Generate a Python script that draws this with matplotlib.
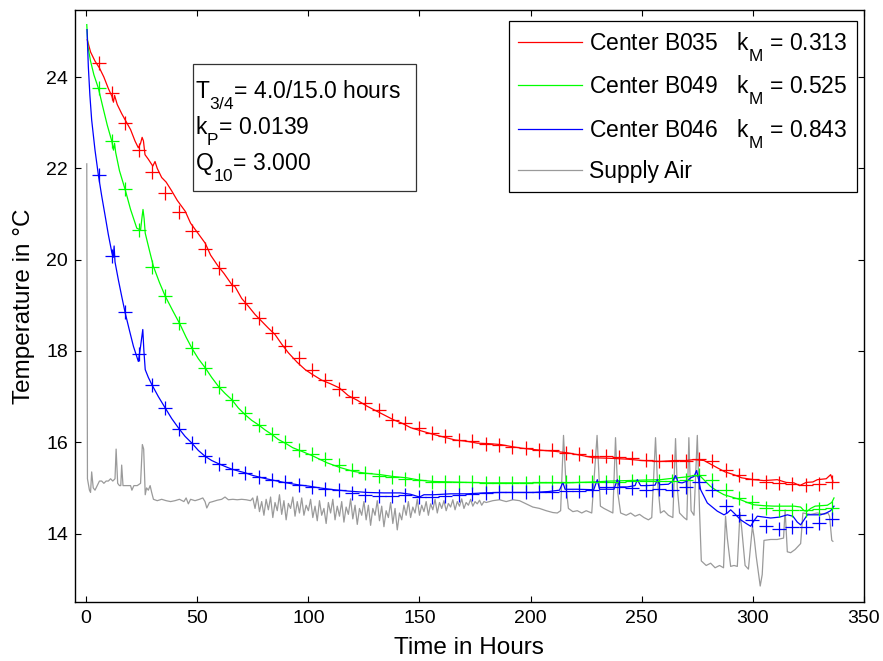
import numpy as np
import matplotlib
matplotlib.use("Agg")
import matplotlib.pyplot as plt
from matplotlib.patches import Rectangle
from matplotlib.lines import Line2D

try:
    import matplotlib._mathtext as _mt
    _mt.FontConstantsBase.sub1 = 0.9
    _mt.SHRINK_FACTOR = 0.75
except Exception:
    pass

plt.rcParams['font.family'] = ['Liberation Sans', 'DejaVu Sans']
plt.rcParams['mathtext.fontset'] = 'custom'
plt.rcParams['mathtext.rm'] = 'Liberation Sans'
plt.rcParams['mathtext.it'] = 'Liberation Sans:italic'
plt.rcParams['mathtext.default'] = 'regular'

# ---------------- data ----------------
series_names = ["Center B035", "Center B049", "Center B046", "Supply Air"]
km_values = ["0.313", "0.525", "0.843"]
x_ticks = [0, 50, 100, 150, 200, 250, 300, 350]
y_ticks = [14, 16, 18, 20, 22, 24]

b035_t = [0.5, 2, 4, 6, 8, 10, 11.6, 12.3, 12.8, 14, 16, 17.6, 20, 22, 23.5, 24.5, 25.2, 25.8, 26.5, 28,
          30, 31, 32, 34, 36, 38.6, 41, 44.6, 47, 50, 53.6, 56, 59.5, 62, 65.6, 67, 70, 73, 76, 79,
          82, 85, 88, 91, 95, 98.6, 102, 106, 110, 114, 118, 122, 126.4, 130, 134, 138.4, 142, 146, 150, 156.4,
          162, 166, 171.4, 176, 181, 186.4, 192, 196, 201.4, 206, 211, 216.4, 222, 228.4, 235, 243.4, 250, 258.4, 265, 270,
          273.4, 278, 281, 284, 287.5, 291.4, 295, 300.4, 305, 311, 315, 318.5, 321, 324, 327, 329, 333, 335, 336]
b035_v = [24.82, 24.55, 24.35, 24.2, 24.0, 23.75, 23.58, 23.45, 23.6, 23.4, 23.2, 23.06, 22.85, 22.6, 22.45, 22.55, 22.68, 22.6, 22.3, 22.2,
          22.05, 22.15, 22.0, 21.8, 21.7, 21.5, 21.3, 21.06, 20.8, 20.6, 20.36, 20.1, 19.85, 19.7, 19.45, 19.41, 19.15, 18.98, 18.8, 18.65,
          18.5, 18.36, 18.15, 17.96, 17.75, 17.59, 17.48, 17.36, 17.28, 17.19, 17.02, 16.92, 16.79, 16.7, 16.6, 16.49, 16.42, 16.32, 16.26, 16.17,
          16.1, 16.05, 16.02, 15.98, 15.97, 15.95, 15.9, 15.87, 15.84, 15.82, 15.8, 15.77, 15.72, 15.66, 15.65, 15.63, 15.6, 15.58, 15.6, 15.6,
          15.62, 15.6, 15.52, 15.44, 15.35, 15.29, 15.22, 15.18, 15.16, 15.18, 15.12, 15.11, 15.05, 15.12, 15.13, 15.18, 15.2, 15.29, 15.15]

b049_t = [0.3, 0.8, 2, 3.5, 5.5, 7.5, 9.5, 11.6, 12.3, 12.8, 13.3, 15, 17.6, 20, 22.8, 24.5, 25.2, 25.6, 26.1, 26.6,
          28.5, 30.3, 33, 35.6, 39, 42.3, 45, 47.6, 50.5, 53.6, 56.5, 59.6, 62.5, 65.6, 68.5, 71.6, 74.5, 77.6, 80.5, 83.6,
          86.5, 89.6, 93, 97.1, 102, 108.4, 114, 120.4, 126, 132.4, 138, 144.4, 150, 156.4, 164, 171.4, 180, 186.4, 195, 201.4,
          210, 216.4, 222, 228.4, 236, 243.4, 250, 258.4, 262, 266, 270, 273.4, 276.5, 278.5, 281, 284, 287, 290.5, 294.5, 297.5,
          300.4, 305, 309.5, 314, 318.5, 321.5, 323, 324.5, 326, 328, 330.5, 333.5, 335.5, 336.5]
b049_v = [25.15, 24.67, 24.35, 24.05, 23.76, 23.35, 22.95, 22.59, 22.4, 22.55, 22.35, 21.95, 21.53, 21.1, 20.69, 20.65, 20.95, 21.1, 20.9, 20.58,
          20.2, 19.85, 19.5, 19.2, 18.88, 18.58, 18.3, 18.06, 17.83, 17.63, 17.42, 17.22, 17.07, 16.93, 16.75, 16.6, 16.48, 16.38, 16.27, 16.17,
          16.06, 15.98, 15.88, 15.8, 15.7, 15.55, 15.45, 15.36, 15.32, 15.29, 15.25, 15.22, 15.17, 15.14, 15.13, 15.12, 15.11, 15.11, 15.11, 15.11,
          15.11, 15.11, 15.12, 15.13, 15.15, 15.16, 15.17, 15.18, 15.2, 15.22, 15.24, 15.27, 15.25, 15.15, 15.03, 14.93, 14.85, 14.8, 14.74, 14.68,
          14.63, 14.61, 14.6, 14.6, 14.6, 14.58, 14.5, 14.49, 14.55, 14.6, 14.61, 14.62, 14.68, 14.78]

b046_t = [0.4, 1.0, 1.7, 2.5, 4.0, 5.5, 7.0, 8.6, 10.0, 11.6, 12.2, 12.6, 13.0, 14.5, 16.0, 17.6, 19.5, 21.3, 23.5, 24.5,
          25.5, 26.0, 26.6, 28, 29.6, 32.5, 35.6, 38.5, 41.6, 44.5, 47.6, 50.5, 53.6, 56.5, 59.6, 62.5, 65.6, 68.5, 71.6, 74.5,
          77.6, 81, 85, 89, 92.6, 96.4, 100, 105, 111.4, 118, 126.4, 134, 141.4, 146, 150, 152, 156.4, 164, 171.4, 179,
          186.4, 194, 201.4, 208, 213, 214.5, 215.5, 221, 228.4, 230, 231, 237.5, 239, 240, 243.4, 247, 248, 249.5, 252.4, 256,
          257, 258, 262, 264, 265.2, 266.5, 268.2, 270.5, 272, 273.5, 274.7, 275.5, 276.5, 279.5, 282, 284, 287, 288.5, 290, 291.5,
          294.5, 297, 299, 300.5, 302, 305, 308, 312, 315.5, 318, 320, 321.5, 323, 324.5, 327, 330.5, 333, 335, 336.5]
b046_v = [25.04, 24.23, 23.6, 23.06, 22.4, 21.86, 21.4, 20.95, 20.55, 20.15, 20.05, 20.3, 19.95, 19.56, 19.2, 18.83, 18.45, 18.1, 17.77, 18.1,
          18.47, 18.0, 17.59, 17.42, 17.26, 17.0, 16.75, 16.52, 16.31, 16.13, 15.98, 15.82, 15.69, 15.6, 15.53, 15.47, 15.41, 15.37, 15.33, 15.28,
          15.24, 15.2, 15.16, 15.12, 15.09, 15.06, 15.04, 15.0, 14.96, 14.93, 14.9, 14.89, 14.89, 14.86, 14.8, 14.85, 14.85, 14.87, 14.87, 14.89,
          14.9, 14.9, 14.9, 14.92, 14.95, 15.12, 14.97, 14.97, 14.96, 15.18, 14.97, 14.97, 15.18, 15.02, 15.02, 15.05, 15.18, 15.05, 15.05, 15.06,
          15.18, 15.07, 15.08, 15.15, 15.27, 15.12, 15.11, 15.15, 15.22, 15.25, 15.38, 15.2, 14.96, 14.67, 14.57, 14.49, 14.41, 14.45, 14.52, 14.45,
          14.3, 14.22, 14.16, 14.28, 14.38, 14.36, 14.34, 14.36, 14.41, 14.38, 14.25, 14.19, 14.3, 14.41, 14.41, 14.41, 14.45, 14.5, 14.6]

supply_head_t = [0.3, 0.6, 1.5, 2.0, 2.5, 3.2, 4.0, 5.0, 6.0, 7.0, 8.0, 9.0, 10.0, 11.0, 12.0, 13.0, 13.5, 14.2, 15.0, 15.6,
                 16.0, 16.6, 18.0, 20.0, 20.6, 21.5, 23.0, 24.5, 25.3, 25.9, 26.6, 27.2, 28.0, 28.8, 29.5, 30.3, 32, 34, 36, 38,
                 40, 42, 44, 45, 46, 47, 49, 51, 52.5, 53.5, 54.3, 55.5, 57, 59, 61, 62.5, 64, 66, 68, 70, 72, 74]
supply_head_v = [22.1, 15.2, 14.95, 14.9, 15.35, 15.0, 14.95, 15.05, 15.15, 15.15, 15.1, 15.15, 15.15, 15.2, 15.15, 15.2, 15.85, 15.1, 15.05, 15.05,
                 15.5, 15.05, 15.05, 15.05, 14.95, 15.05, 15.05, 15.1, 15.95, 15.85, 14.85, 15.0, 14.95, 15.05, 14.9, 14.75, 14.72, 14.75, 14.72, 14.7,
                 14.72, 14.75, 14.7, 14.78, 14.65, 14.75, 14.72, 14.75, 14.78, 14.7, 14.56, 14.68, 14.7, 14.73, 14.75, 14.8, 14.74, 14.75, 14.74, 14.75, 14.74, 14.72]
# hourly readings from hour 75 to hour 180
supply_noise_start = 75
supply_noise_v = [14.78, 14.55, 14.82, 14.48, 14.7, 14.4, 14.75, 14.52, 14.8, 14.35, 14.68, 14.5, 14.85, 14.42, 14.72, 14.3, 14.66, 14.55, 14.8, 14.38,
                  14.7, 14.45, 14.78, 14.4, 14.62, 14.5,
                  14.75, 14.35, 14.6, 14.28, 14.72, 14.4, 14.55, 14.22, 14.68, 14.45, 14.75, 14.3, 14.6, 14.38, 14.7, 14.25, 14.58, 14.42, 14.76, 14.32,
                  14.62, 14.2, 14.55, 14.4, 14.7,
                  14.3, 14.62, 14.18, 14.55, 14.4, 14.72, 14.28, 14.6, 14.15, 14.5, 14.35, 14.68, 14.22, 14.55, 14.08, 14.45, 14.3, 14.62, 14.4, 14.7,
                  14.35, 14.58, 14.45, 14.75, 14.4,
                  14.62, 14.48, 14.7, 14.4, 14.65, 14.52, 14.75, 14.45, 14.68, 14.55, 14.72, 14.5, 14.66, 14.58, 14.74, 14.52, 14.7, 14.6, 14.76, 14.55,
                  14.68, 14.62, 14.75, 14.6, 14.7, 14.65, 14.73, 14.62, 14.7, 14.68]
supply_tail_t = [183, 186, 189, 192, 195, 198, 201, 204, 207, 210, 212, 213.5, 214.8, 216, 217, 219, 221, 223, 225, 227.5,
                 229.9, 231.4, 233, 235, 237, 238.2, 239.2, 240.5, 243, 245, 247, 249, 251, 253, 254.5, 256.2, 257, 258.4, 260, 262,
                 264, 265.2, 266, 267, 269, 270.3, 271.2, 272.2, 273.5, 275, 276, 276.8, 279, 281, 283, 285, 286.8, 287.7, 288.5, 290,
                 291.5, 293, 294.2, 295, 296.5, 298, 299.8, 300.6, 301.5, 303.3, 304.2, 305, 308, 311, 313.8, 314.5, 315.5, 317, 319, 321.5,
                 322.5, 326, 329, 332, 333.8, 334.5, 335.5, 336]
supply_tail_v = [14.72, 14.74, 14.7, 14.74, 14.72, 14.65, 14.58, 14.55, 14.5, 14.46, 14.45, 14.5, 16.15, 15.0, 14.55, 14.48, 14.5, 14.45, 14.5, 14.45,
                 16.15, 14.6, 14.55, 14.5, 14.45, 16.1, 14.9, 14.45, 14.4, 14.45, 14.38, 14.42, 14.35, 14.3, 14.35, 16.1, 15.2, 14.45, 14.5, 14.4,
                 14.35, 16.08, 15.0, 14.45, 14.35, 14.3, 16.1, 14.5, 14.4, 16.15, 14.5, 13.4, 13.3, 13.35, 13.25, 13.3, 13.25, 14.38, 13.9, 13.28,
                 13.3, 13.28, 14.46, 14.1, 13.3, 13.22, 14.16, 13.9, 13.5, 12.85, 13.1, 13.85, 13.87, 13.87, 13.9, 14.52, 13.6, 13.58, 13.65, 13.78,
                 14.45, 14.42, 14.45, 14.42, 14.45, 14.38, 13.85, 13.83]

marker_t = [5.7, 11.7, 17.7, 23.7, 29.7, 35.7, 41.7, 47.7, 53.7, 59.7, 65.7, 71.7, 77.7, 83.7, 89.7, 95.7, 101.7, 107.7, 113.7, 119.7,
            125.7, 131.7, 137.7, 143.7, 149.7, 155.7, 161.7, 167.7, 173.7, 179.7, 185.7, 191.7, 197.7, 203.7, 209.7, 215.7, 221.7, 227.7, 233.7, 239.7,
            245.7, 251.7, 257.7, 263.7, 269.7, 275.7, 281.7, 287.7, 293.7, 299.7, 305.7, 311.7, 317.7, 323.7, 329.7, 335.7]
model_b035 = [24.31, 23.65, 22.99, 22.41, 21.93, 21.47, 21.05, 20.62, 20.23, 19.82, 19.45, 19.05, 18.72, 18.4, 18.11, 17.85, 17.59, 17.37, 17.17, 16.99,
              16.86, 16.71, 16.49, 16.42, 16.31, 16.2, 16.14, 16.06, 16.02, 15.97, 15.95, 15.9, 15.87, 15.84, 15.82, 15.77, 15.75, 15.69, 15.69, 15.68,
              15.66, 15.62, 15.6, 15.6, 15.6, 15.63, 15.58, 15.4, 15.29, 15.2, 15.14, 15.11, 15.09, 15.07, 15.09, 15.12]
model_b049 = [23.76, 22.59, 21.55, 20.64, 19.85, 19.21, 18.62, 18.06, 17.63, 17.22, 16.93, 16.64, 16.38, 16.19, 16.0, 15.83, 15.75, 15.63, 15.51, 15.4,
              15.33, 15.27, 15.24, 15.2, 15.18, 15.14, 15.13, 15.12, 15.12, 15.11, 15.11, 15.11, 15.11, 15.12, 15.12, 15.12, 15.14, 15.14, 15.14, 15.14,
              15.15, 15.15, 15.15, 15.16, 15.18, 15.29, 15.18, 14.96, 14.78, 14.68, 14.56, 14.52, 14.51, 14.51, 14.54, 14.56]
model_b046 = [21.86, 20.07, 18.85, 17.94, 17.26, 16.75, 16.29, 15.98, 15.69, 15.53, 15.41, 15.33, 15.24, 15.17, 15.12, 15.07, 15.02, 14.98, 14.95, 14.89,
              14.85, 14.83, 14.83, 14.85, 14.81, 14.8, 14.83, 14.85, 14.87, 14.89, 14.9, 14.92, 14.92, 14.9, 14.92, 14.94, 14.94, 14.96, 15.02, 15.02,
              15.0, 14.96, 14.97, 14.96, 15.02, 15.12, 14.96, 14.6, 14.41, 14.29, 14.16, 14.1, 14.14, 14.14, 14.22, 14.32]

info_lines = ["T$_{3/4}$= 4.0/15.0 hours", "k$_{P}$= 0.0139", "Q$_{10}$= 3.000"]

# ---------------- plot ----------------
W, H = 883, 661
fig = plt.figure(figsize=(W / 100, H / 100), dpi=100)
ax = fig.add_axes([75 / W, 1 - 602 / H, 789 / W, 592 / H])

supply_t = list(supply_head_t) + list(np.arange(supply_noise_start, supply_noise_start + len(supply_noise_v))) + list(supply_tail_t)
supply_v = list(supply_head_v) + list(supply_noise_v) + list(supply_tail_v)

c_red, c_green, c_blue, c_gray = '#ff0000', '#00ff00', '#0000ff', '#9a9a9a'
lw = 0.9
ax.plot(supply_t, supply_v, color=c_gray, lw=lw, zorder=1)
ax.plot(b035_t, b035_v, color=c_red, lw=lw, zorder=3)
ax.plot(b049_t, b049_v, color=c_green, lw=lw, zorder=3)
ax.plot(b046_t, b046_v, color=c_blue, lw=lw, zorder=3)
ms = 9.5
ax.plot(marker_t, model_b035, ls='none', marker='+', ms=ms, mew=0.9, color=c_red, zorder=4)
ax.plot(marker_t, model_b049, ls='none', marker='+', ms=ms, mew=0.9, color=c_green, zorder=4)
ax.plot(marker_t, model_b046, ls='none', marker='+', ms=ms, mew=0.9, color=c_blue, zorder=4)

ax.set_xlim(-5, 350)
ax.set_ylim(12.5, 25.47)
ax.set_xticks(x_ticks)
ax.set_yticks(y_ticks)
ax.tick_params(direction='in', length=4.5, width=0.8, top=True, right=True, labelsize=14, colors='k')
ax.tick_params(axis='x', pad=6)
ax.tick_params(axis='y', pad=5)
for s in ax.spines.values():
    s.set_linewidth(1.0)

fig.text(469 / W, 1.5 / H, "Time in Hours", fontsize=17.5, ha='center', va='bottom')
fig.text(24 / W, 1 - 306 / H, "Temperature in °C", fontsize=17.5, ha='center', va='center', rotation=90)

# info box
fig.patches.append(Rectangle((193 / W, 1 - 191 / H), 223 / W, 127 / H, transform=fig.transFigure,
                             fill=True, facecolor='white', edgecolor='#333333', lw=0.9, zorder=5))
for line, yb in zip(info_lines, [98, 134, 170]):
    fig.text(195 / W, 1 - yb / H, line, fontsize=16.5, ha='left', va='baseline', zorder=6)

# legend
handles = [Line2D([], [], color=c_red, lw=lw), Line2D([], [], color=c_green, lw=lw),
           Line2D([], [], color=c_blue, lw=lw), Line2D([], [], color=c_gray, lw=lw)]
labels = [f"{n}   k$_{{M}}$ = {k}" for n, k in zip(series_names[:3], km_values)] + [series_names[3]]
leg = ax.legend(handles, labels, loc='upper right', bbox_to_anchor=(857 / W, 1 - 21 / H),
                bbox_transform=fig.transFigure, borderaxespad=0, fontsize=16.5, frameon=True,
                fancybox=False, framealpha=1, edgecolor='k', handlelength=2.8, handletextpad=0.3,
                borderpad=0.4, labelspacing=0.42)
leg.get_frame().set_linewidth(0.9)

fig.savefig("out.png", dpi=100)
